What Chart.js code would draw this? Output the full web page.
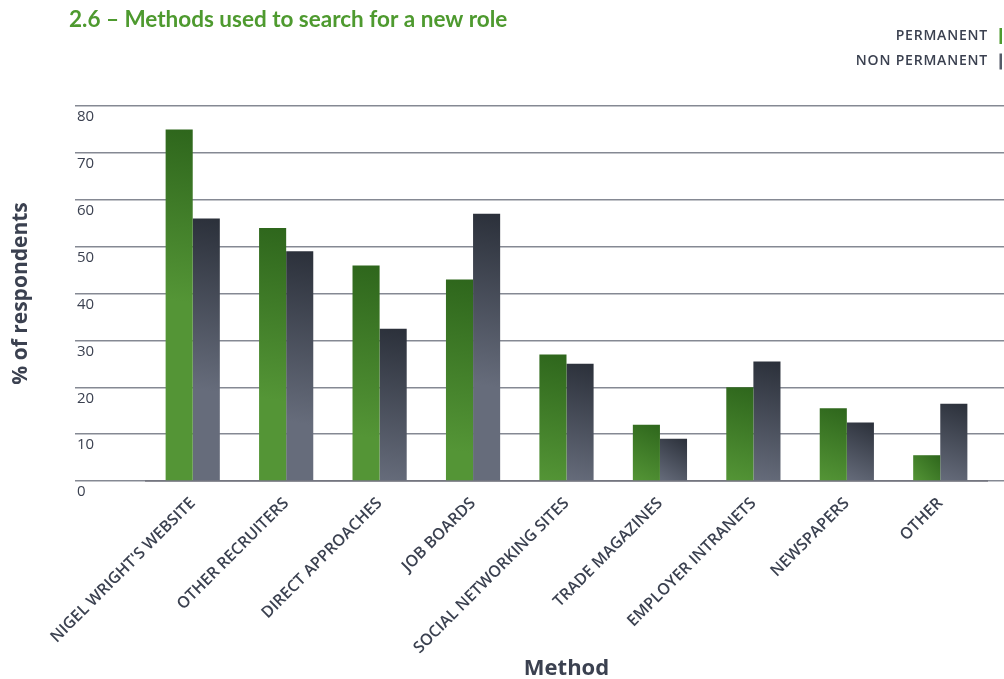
<!DOCTYPE html>
<html>
<head>
<meta charset="utf-8">
<title>2.6 – Methods used to search for a new role</title>
<script src="https://cdn.jsdelivr.net/npm/chart.js@4.4.1/dist/chart.umd.min.js"></script>
<style>
  html, body { margin: 0; padding: 0; background: #ffffff; }
  #wrap { width: 1004px; height: 679px; }
</style>
</head>
<body>
<div id="wrap"><canvas id="methodsChart" width="1004" height="679"></canvas></div>
<script>
// --- data ---
const chartTitle = '2.6 – Methods used to search for a new role';
const methods = [
    "NIGEL WRIGHT'S WEBSITE",
    'OTHER RECRUITERS',
    'DIRECT APPROACHES',
    'JOB BOARDS',
    'SOCIAL NETWORKING SITES',
    'TRADE MAGAZINES',
    'EMPLOYER INTRANETS',
    'NEWSPAPERS',
    'OTHER'
];
const permanent    = [75, 54, 46, 43, 27, 12, 20, 15.5, 5.5];
const nonPermanent = [56, 49, 32.5, 57, 25, 9, 25.5, 12.5, 16.5];
const yTicks = [0, 10, 20, 30, 40, 50, 60, 70, 80];

// --- styles ---
const TEXT_DARK = '#3b4150';
const TITLE_GREEN = '#4e9a2f';
const GRID_GREY = '#858993';
const CAT_PCT = 0.58;
const FONT = '"Open Sans", "DejaVu Sans", sans-serif';

// Diagonal shading per bar: dark at the top-right corner, fading to the
// flat base colour towards the bottom-left.
function barFill(dark, light, side) {
    return (context) => {
        const { chart, dataIndex, parsed } = context;
        const { x, y } = chart.scales;
        if (!chart.chartArea || !parsed || !x || !y) {
            return light;
        }
        const half = (x.width / methods.length) * CAT_PCT / 2;
        const cx = x.getPixelForValue(dataIndex);
        const left = side < 0 ? cx - half : cx;
        const right = left + half;
        const top = y.getPixelForValue(parsed.y);
        const base = y.getPixelForValue(0);
        const reach = Math.min(base - top, 170);
        const g = chart.ctx.createLinearGradient(right, top, left, top + reach);
        g.addColorStop(0, dark);
        g.addColorStop(1, light);
        return g;
    };
}

// Title top-left, legend top-right (text followed by a thin colour bar)
const headerPlugin = {
    id: 'header',
    afterDraw(chart) {
        const { ctx } = chart;
        ctx.save();
        ctx.textBaseline = 'middle';
        ctx.textAlign = 'left';
        ctx.fillStyle = TITLE_GREEN;
        ctx.font = 'bold 22.5px Lato, sans-serif';
        ctx.fillText(chartTitle, 69, 20);

        ctx.font = '600 14px ' + FONT;
        ctx.letterSpacing = '0.8px';
        ctx.textAlign = 'right';
        chart.data.datasets.forEach((ds, i) => {
            const rowY = 36 + i * 25.5;
            ctx.fillStyle = TEXT_DARK;
            ctx.fillText(ds.label, 988, rowY);
            ctx.fillStyle = ds.swatch;
            ctx.fillRect(999.5, rowY - 8, 2.5, 16);
        });
        ctx.restore();
    }
};

new Chart(document.getElementById('methodsChart'), {
    type: 'bar',
    data: {
        labels: methods,
        datasets: [
            {
                label: 'PERMANENT',
                data: permanent,
                swatch: '#4e9a2f',
                backgroundColor: barFill('#2e661c', '#549536', -1)
            },
            {
                label: 'NON PERMANENT',
                data: nonPermanent,
                swatch: '#555b68',
                backgroundColor: barFill('#2b303a', '#666c7b', 1)
            }
        ]
    },
    options: {
        responsive: false,
        animation: false,
        devicePixelRatio: 1,
        layout: { padding: { top: 106, left: 0, right: 0, bottom: 0 } },
        datasets: { bar: { categoryPercentage: CAT_PCT, barPercentage: 1 } },
        plugins: {
            legend: { display: false },
            title: { display: false },
            tooltip: { enabled: false }
        },
        scales: {
            x: {
                z: 1,
                grid: { display: false, drawTicks: false },
                border: { display: true, color: 'rgba(105,105,115,0.6)', width: 2 },
                ticks: {
                    color: TEXT_DARK,
                    font: { family: FONT, size: 16, weight: '600' },
                    minRotation: 45,
                    maxRotation: 45,
                    autoSkip: false,
                    padding: 13
                },
                title: {
                    display: true,
                    text: 'Method',
                    color: TEXT_DARK,
                    font: { family: FONT, size: 22, weight: 'bold' },
                    padding: { top: 0, bottom: -3 }
                },
                afterFit: (scale) => { scale.height = 198; }
            },
            y: {
                position: 'left',
                min: yTicks[0],
                max: yTicks[yTicks.length - 1],
                grid: { color: GRID_GREY, lineWidth: 1.5, drawTicks: true, tickLength: 71 },
                border: { display: false },
                ticks: {
                    stepSize: yTicks[1] - yTicks[0],
                    mirror: true,
                    padding: -69,
                    labelOffset: 11,
                    color: TEXT_DARK,
                    font: { family: FONT, size: 15 }
                },
                title: {
                    display: true,
                    text: '% of respondents',
                    color: TEXT_DARK,
                    font: { family: FONT, size: 21, weight: 'bold' },
                    padding: { top: 8, bottom: 0 }
                },
                afterFit: (scale) => { scale.width = 146; }
            },
            // carries the gridlines on to the right-hand edge
            edge: {
                position: 'right',
                min: yTicks[0],
                max: yTicks[yTicks.length - 1],
                grid: { color: GRID_GREY, lineWidth: 1.5, drawOnChartArea: false, drawTicks: true, tickLength: 17 },
                border: { display: false },
                ticks: { display: false, stepSize: yTicks[1] - yTicks[0] },
                afterFit: (scale) => { scale.width = 17; }
            }
        }
    },
    plugins: [headerPlugin]
});
</script>
</body>
</html>
